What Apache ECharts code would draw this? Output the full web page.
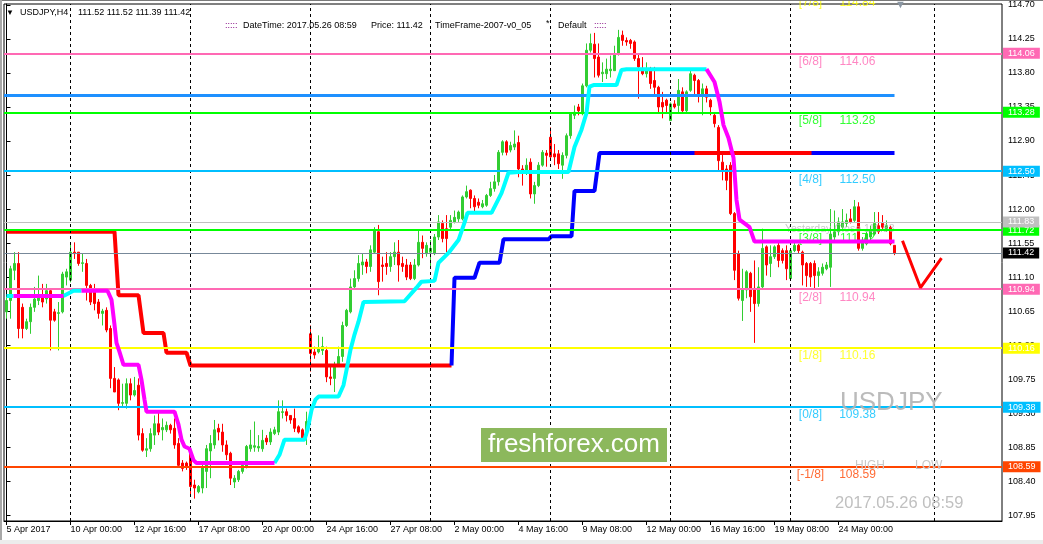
<!DOCTYPE html>
<html><head><meta charset="utf-8">
<script src="https://cdn.jsdelivr.net/npm/echarts@6/dist/echarts.min.js"></script>
<style>html,body{margin:0;padding:0;background:#fff;overflow:hidden}#c{width:1043px;height:544px}</style>
</head><body><div id="c"></div><script>
// ---------- DATA ----------
const opens=[110.64,110.79,111.19,111.28,110.70,110.42,110.51,110.70,110.79,110.86,110.81,110.92,110.64,110.62,110.64,111.10,111.06,111.43,111.43,111.28,111.28,110.99,110.90,110.77,110.62,110.66,110.42,109.76,109.74,109.43,109.43,109.69,109.54,109.67,109.03,108.81,108.83,109.01,109.16,109.08,109.08,109.14,109.10,108.90,108.64,108.64,108.77,108.35,108.26,108.31,108.53,108.80,108.88,109.10,109.05,108.88,108.77,108.39,108.42,108.53,108.59,108.83,108.85,108.84,108.83,108.97,108.92,109.03,109.05,109.31,109.32,109.27,109.23,109.12,109.08,109.01,110.35,110.11,110.11,110.13,110.13,109.78,109.76,109.93,110.05,110.46,110.64,110.97,111.08,111.26,111.30,111.24,111.43,111.70,111.26,111.28,111.24,111.37,111.43,111.28,111.26,111.26,111.08,111.26,111.56,111.41,111.43,111.41,111.63,111.81,111.74,111.76,111.83,111.87,111.87,112.16,112.25,112.14,112.09,112.03,112.05,112.18,112.27,112.36,112.75,112.89,112.78,112.82,112.88,112.53,112.49,112.62,112.20,112.31,112.58,112.74,112.95,112.73,112.73,112.58,112.71,112.97,113.24,113.35,113.26,113.63,114.10,114.18,114.01,113.79,113.79,113.83,113.83,114.05,114.30,114.23,114.23,114.21,113.99,113.85,113.79,113.83,113.70,113.61,113.41,113.44,113.17,113.39,113.37,113.55,113.30,113.57,113.77,113.70,113.52,113.59,113.44,113.24,113.08,112.62,112.53,112.58,111.94,111.41,110.79,110.93,111.15,110.95,110.75,110.97,111.50,111.28,111.37,111.52,111.45,111.45,111.08,111.45,111.52,111.43,111.28,111.28,111.28,111.12,111.15,111.21,111.23,111.63,111.70,111.76,111.81,111.87,111.85,112.03,111.48,111.54,111.63,111.67,111.78,111.81,111.74,111.76,111.52];
const highs=[110.84,111.25,111.43,111.43,110.75,110.55,110.75,110.97,111.12,111.01,111.01,110.95,110.68,110.77,111.17,111.21,111.56,111.56,111.43,111.41,111.34,111.01,111.01,110.81,110.68,110.70,110.46,109.91,109.76,109.69,109.76,109.76,109.78,109.76,109.10,108.97,109.10,109.27,109.34,109.23,109.19,109.16,109.23,108.97,108.68,108.66,108.83,108.42,108.35,108.64,108.88,109.01,109.21,109.16,109.16,108.94,108.79,108.48,108.55,108.64,108.88,109.08,109.19,109.01,109.08,109.01,109.10,109.12,109.47,109.47,109.36,109.27,109.36,109.14,109.10,109.32,110.46,110.18,110.33,110.31,110.18,109.91,109.98,110.18,110.51,110.68,111.08,111.19,111.39,111.41,111.34,111.52,111.76,111.79,111.37,111.43,111.43,111.56,111.59,111.37,111.34,111.30,111.34,111.72,111.65,111.56,111.59,111.67,111.92,111.85,111.92,111.92,111.98,111.98,112.18,112.31,112.26,112.18,112.14,112.12,112.20,112.36,112.45,112.78,112.91,112.91,112.89,113.04,112.97,112.58,112.67,112.67,112.36,112.62,112.78,112.78,113.08,112.86,112.78,112.75,113.00,113.28,113.37,113.39,113.66,114.19,114.32,114.33,114.19,113.94,113.99,114.03,114.16,114.37,114.36,114.27,114.25,114.23,114.05,114.01,113.94,113.88,113.88,113.63,113.55,113.46,113.41,113.44,113.72,113.61,113.57,113.83,113.79,113.72,113.66,113.63,113.46,113.26,113.11,112.73,112.58,112.62,111.96,111.45,111.21,111.19,111.17,111.32,111.23,111.74,111.52,111.52,111.52,111.57,111.48,111.52,111.48,111.57,111.54,111.45,111.30,111.30,111.32,111.23,111.28,111.30,112.00,111.98,111.89,112.00,111.94,112.00,112.12,112.09,111.63,111.70,111.78,111.96,111.96,111.92,111.85,111.78,111.52];
const lows=[110.55,110.55,111.06,110.29,110.29,110.40,110.35,110.64,110.73,110.70,110.75,110.13,110.51,110.13,110.62,110.99,111.03,111.34,111.25,111.17,110.79,110.73,110.66,110.55,110.46,110.37,109.63,109.58,109.34,109.38,109.36,109.47,109.52,108.94,108.79,108.72,108.79,108.88,109.01,108.94,109.05,109.03,108.83,108.59,108.53,108.55,108.20,108.17,108.24,108.24,108.31,108.44,108.83,108.94,108.79,108.68,108.35,108.31,108.39,108.50,108.57,108.79,108.79,108.79,108.79,108.88,108.88,109.01,109.01,109.23,109.19,109.16,109.05,109.03,108.94,108.88,109.85,110.02,110.09,110.07,109.71,109.67,109.58,109.93,109.98,110.44,110.62,110.95,111.04,111.13,111.15,111.17,111.41,110.86,111.04,111.13,111.17,111.26,111.04,111.17,111.06,111.06,111.06,111.24,111.35,111.37,111.21,111.39,111.59,111.56,111.43,111.72,111.81,111.83,111.85,112.14,112.01,111.96,112.01,112.01,112.03,112.16,112.23,112.31,112.71,112.71,112.75,112.78,112.42,112.31,112.45,112.14,112.07,112.29,112.56,112.56,112.67,112.58,112.53,112.40,112.67,112.93,113.19,113.24,113.24,113.61,114.07,113.74,113.74,113.68,113.72,113.74,113.83,114.03,114.16,114.16,114.12,113.96,113.46,113.77,113.74,113.59,113.52,113.28,113.20,113.28,113.17,113.33,113.28,113.28,113.28,113.55,113.52,113.41,113.24,113.41,113.24,113.08,112.51,112.38,112.25,111.92,111.06,110.79,110.52,110.82,110.64,110.23,110.71,110.95,111.12,111.10,111.34,111.23,111.28,111.06,111.06,111.43,111.41,110.99,110.97,110.97,110.93,110.97,111.12,111.19,110.97,111.59,111.65,111.72,111.76,111.81,111.83,111.45,111.45,111.52,111.59,111.65,111.67,111.72,111.70,111.52,111.39];
const closes=[110.79,111.21,111.28,110.42,110.42,110.51,110.70,110.81,110.86,110.77,110.92,110.53,110.53,110.63,111.14,111.17,111.43,111.41,111.28,111.29,110.99,110.77,110.75,110.62,110.65,110.40,109.76,109.58,109.43,109.44,109.69,109.54,109.60,109.01,108.81,108.83,109.03,109.16,109.05,109.11,109.14,109.08,108.88,108.61,108.57,108.59,108.33,108.31,108.33,108.59,108.83,108.90,109.08,109.05,108.88,108.75,108.44,108.44,108.53,108.61,108.86,108.88,108.87,108.86,108.94,108.92,109.05,109.08,109.32,109.32,109.27,109.21,109.10,109.05,108.97,109.19,110.09,110.07,110.16,110.18,109.78,109.76,109.91,110.05,110.46,110.66,110.97,111.08,111.28,111.30,111.24,111.46,111.72,111.04,111.24,111.24,111.37,111.43,111.26,111.24,111.10,111.08,111.26,111.56,111.48,111.52,111.48,111.63,111.83,111.61,111.61,111.85,111.89,111.96,112.16,112.23,112.14,112.03,112.05,112.07,112.18,112.27,112.36,112.75,112.89,112.75,112.84,112.86,112.53,112.47,112.58,112.20,112.31,112.58,112.75,112.71,112.69,112.69,112.60,112.71,112.97,113.26,113.28,113.30,113.63,114.10,114.19,113.99,113.77,113.81,113.85,113.85,114.05,114.27,114.23,114.21,114.19,113.99,113.88,113.79,113.83,113.66,113.61,113.35,113.35,113.37,113.39,113.35,113.57,113.30,113.55,113.79,113.70,113.52,113.59,113.48,113.35,113.13,112.64,112.51,112.38,111.94,111.19,110.82,110.93,111.17,110.84,110.75,110.97,111.48,111.26,111.37,111.50,111.32,111.32,111.21,111.45,111.52,111.45,111.26,111.12,111.10,111.12,111.17,111.23,111.26,111.67,111.70,111.83,111.83,111.85,111.83,112.03,111.48,111.59,111.67,111.72,111.81,111.70,111.76,111.78,111.54,111.42];

const tickBars=[0,16,32,48,64,80,96,112,128,144,160,176,192,208];
const tickLabels=['5 Apr 2017','10 Apr 00:00','12 Apr 16:00','17 Apr 08:00','20 Apr 00:00','24 Apr 16:00','27 Apr 08:00','2 May 00:00','4 May 16:00','9 May 08:00','12 May 00:00','16 May 16:00','19 May 08:00','24 May 00:00'];
const priceTicks=[114.70,114.25,113.80,113.35,112.90,112.45,112.00,111.55,111.10,110.65,110.20,109.75,109.30,108.85,108.40,107.95];
const gridBars=[16,46,76,106,136,166,196,232];

const levelPrices=[114.84,114.06,113.28,112.50,111.72,110.94,110.16,109.38,108.59];
const levelNames=['[7/8]','[6/8]','[5/8]','[4/8]','[3/8]','[2/8]','[1/8]','[0/8]','[-1/8]'];
const yesterdayClose=111.83;
const bidPrice=111.42;
const blueLevel=113.50;
const lastBar=222;

const srRedPts=[[0,111.70],[27,111.70],[28,110.86],[33,110.86],[34.25,110.36],[39.25,110.36],[40,110.10],[45,110.10],[46,109.93],[111.25,109.93]];
const srBluePts=[[111.25,109.93],[112,111.09],[117,111.09],[118.25,111.29],[123.25,111.29],[124.25,111.60],[135.5,111.60],[136.25,111.64],[141.25,111.64],[142,112.24],[147,112.24],[148.25,112.74],[222,112.74]];
const srRedLatePts=[[172,112.74],[201.25,112.74]];

const trailCyanSegs=[
 [[0,110.85],[1.75,110.85]],
 [[14.25,110.85],[16.75,110.92],[18.75,110.92]],
 [[67,108.64],[68.25,108.75],[69.5,108.95],[74.5,108.95],[75.25,109.08],[76.25,109.34],[77.25,109.48],[78,109.52],[83,109.52],[84.25,109.67],[85,109.87],[86,110.14],[87,110.34],[88,110.51],[89.25,110.77],[99.5,110.78],[102.5,110.96],[103.75,111.04],[107,111.05],[108,111.29],[110.5,111.42],[113,111.59],[114.5,111.82],[115.25,111.95],[121.25,111.95],[123.75,112.21],[125.5,112.48],[128,112.49],[140.5,112.49],[142,112.82],[143.75,113.05],[145,113.27],[145.75,113.62],[146.75,113.64],[152.5,113.64],[153.75,113.84],[155,113.85],[175,113.85]]
];
const trailMagentaSegs=[
 [[1.75,110.85],[14.25,110.85]],
 [[18.75,110.92],[25.25,110.92],[26.25,110.80],[27,110.47],[27.5,110.23],[28.25,110.11],[29.25,109.94],[33,109.94],[33.75,109.74],[34.5,109.48],[35,109.32],[42,109.32],[43,109.15],[43.75,108.95],[44.5,108.86],[45.75,108.83],[46.75,108.68],[47.5,108.64],[67,108.64]],
 [[175,113.85],[177,113.68],[178.25,113.42],[179.25,113.11],[180.5,112.94],[181.75,112.68],[182.5,112.12],[183.25,111.86],[185.75,111.76],[187,111.57],[222,111.57]]
];
const vPts=[[224,111.58],[228.5,110.96],[233.75,111.35]];

// ---------- STYLE / LAYOUT ----------
const levelColors=['#FFFF00','#FF69B4','#00FF00','#00BFFF','#00FF00','#FF69B4','#FFFF00','#00BFFF','#FF4500'];
const FONT='Liberation Sans';
const X_MIN=-0.625, X_MAX=248.875, Y_MIN=107.874, Y_MAX=114.712;
const NAME_BAR=201, VALUE_BAR=212.75;

const candleData=opens.map((o,i)=>[i,o,closes[i],lows[i],highs[i]]);

function lvlLine(p,color,width,boxBg){
  return {yAxis:p,lineStyle:{color:color,width:width,type:'solid'},
    label:{show:true,position:'end',distance:1,formatter:p.toFixed(2),backgroundColor:boxBg||color,color:'#fff',
      fontSize:9,fontFamily:FONT,padding:[1,5,0,5],lineHeight:10}};
}
const levelLineData=[];
levelPrices.forEach((p,i)=>{ if(p<=Y_MAX && p>=Y_MIN) levelLineData.push(lvlLine(p,levelColors[i],2)); });
levelLineData.push(lvlLine(yesterdayClose,'#C0C0C0',1));
levelLineData.push(lvlLine(bidPrice,'#778899',1,'#000000'));
levelLineData.push([{coord:[X_MIN,blueLevel],lineStyle:{color:'#1E90FF',width:3,type:'solid'},label:{show:false}},{coord:[lastBar,blueLevel]}]);

const series=[];
series.push({type:'line',data:[],silent:true,z:1,
  markLine:{silent:true,symbol:['none','none'],animation:false,label:{show:false},
    lineStyle:{color:'#000',width:1,type:[3,3]},data:gridBars.map(b=>({xAxis:b}))}});
series.push({type:'candlestick',data:candleData,encode:{x:0,y:[1,2,3,4]},barWidth:2,z:2,silent:true,
  itemStyle:{color:'#32CD32',color0:'#FF0000',borderColor:'#32CD32',borderColor0:'#FF0000',borderColorDoji:'#32CD32',borderWidth:1}});
const nameItems=levelPrices.map((p,i)=>({value:[NAME_BAR,p],label:{formatter:levelNames[i],color:levelColors[i]}}));
const valItems=levelPrices.map((p,i)=>({value:[VALUE_BAR,p],label:{formatter:p.toFixed(2),color:levelColors[i]}}));
series.push({type:'scatter',data:nameItems.concat(valItems),symbolSize:0,clip:false,z:3,silent:true,
  label:{show:true,position:'inside',offset:[0,8],fontSize:12,fontFamily:FONT},
  markLine:{silent:true,symbol:['none','none'],animation:false,data:levelLineData}});
series.push({type:'scatter',data:[{value:[lastBar,yesterdayClose]}],symbolSize:0,z:3,silent:true,
  label:{show:true,formatter:'Yesterday Close '+yesterdayClose.toFixed(2),position:'inside',align:'right',offset:[0,7],
    fontSize:10.5,fontFamily:FONT,color:'rgba(175,175,175,0.85)'}});
function lineS(pts,color,w,z){return {type:'line',data:pts,symbol:'none',silent:true,z:z,lineStyle:{color:color,width:w},animation:false};}
series.push(lineS(srRedPts,'#FF0000',4,4));
series.push(lineS(srBluePts,'#0000FF',4,4));
series.push(lineS(srRedLatePts,'#FF0000',4,5));
trailCyanSegs.forEach(s=>series.push(lineS(s,'#00FFFF',4,6)));
trailMagentaSegs.forEach(s=>series.push(lineS(s,'#FF00FF',4,6)));
series.push(lineS(vPts,'#FF0000',3,7));

const txt=(x,y,t,o)=>Object.assign({type:'text',x:x,y:y,z:100,style:Object.assign({text:t,fill:'#000',font:'9px "'+FONT+'"',textVerticalAlign:'middle'},o||{})});
const graphics=[
  {type:'rect',shape:{x:0,y:0,width:1043,height:1},style:{fill:'#7a7a7a'},z:100},
  {type:'rect',shape:{x:0,y:0,width:2,height:544},style:{fill:'#a8a8a8'},z:100},
  {type:'rect',shape:{x:0,y:540,width:1043,height:4},style:{fill:'#ececec'},z:100},
  txt(6,13,'\u25BC',{font:'8px "'+FONT+'"'}),
  txt(20,13,'USDJPY,H4'),
  txt(78,13,'111.52 111.52 111.39 111.42'),
  txt(225,26,':::::',{fill:'#800080'}),
  txt(243,26,'DateTime: 2017.05.26 08:59'),
  txt(371,26,'Price: 111.42'),
  txt(435,26,'TimeFrame-2007-v0_05'),
  txt(546,24,'*'),
  txt(558,26,'Default'),
  txt(594,26,':::::',{fill:'#800080'}),
  txt(895,5,'\u25BC',{fill:'#8a96a3',font:'11px "'+FONT+'"'}),
  txt(840,403,'USDJPY',{fill:'rgba(180,180,180,0.9)',font:'26px "'+FONT+'"'}),
  txt(855,466,'HIGH',{fill:'#C8C8C8',font:'12px "'+FONT+'"'}),
  txt(915,466,'LOW',{fill:'#C8C8C8',font:'12px "'+FONT+'"'}),
  txt(835,503,'2017.05.26 08:59',{fill:'#C0C0C0',font:'16.5px "'+FONT+'"'}),
  {type:'rect',shape:{x:481,y:428,width:186,height:34},style:{fill:'#8cb85c'},z:101},
  {type:'text',x:574,y:445,z:102,style:{text:'freshforex.com',fill:'#fff',font:'26px "'+FONT+'"',textAlign:'center',textVerticalAlign:'middle'}}
];

const chart=echarts.init(document.getElementById('c'),null,{renderer:'canvas'});
chart.setOption({
  animation:false,backgroundColor:'#fff',
  grid:{left:4,top:4,width:998,height:517,show:true,borderColor:'#000',borderWidth:1,backgroundColor:'#fff'},
  xAxis:{type:'value',min:X_MIN,max:X_MAX,splitLine:{show:false},
    axisLine:{show:true,lineStyle:{color:'#000'}},
    axisTick:{show:true,customValues:tickBars,length:4,lineStyle:{color:'#000'}},
    axisLabel:{customValues:tickBars,formatter:v=>{const k=tickBars.indexOf(Math.round(v));return k>=0?tickLabels[k]:'';},
      align:'left',margin:4,fontSize:9,fontFamily:FONT,color:'#000',hideOverlap:false}},
  yAxis:{type:'value',position:'right',min:Y_MIN,max:Y_MAX,splitLine:{show:false},
    axisLine:{show:true,lineStyle:{color:'#000'}},
    axisTick:{show:true,customValues:priceTicks,length:4,lineStyle:{color:'#000'}},
    axisLabel:{customValues:priceTicks,formatter:v=>v.toFixed(2),margin:6,fontSize:9,fontFamily:FONT,color:'#000'}},
  series:series,
  graphic:graphics
});
</script></body></html>
